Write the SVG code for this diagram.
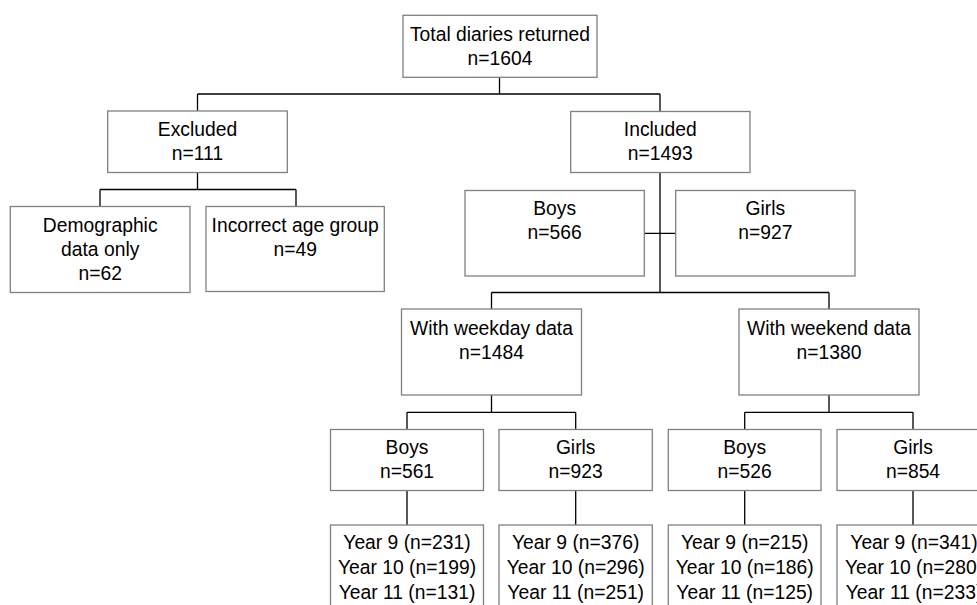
<svg xmlns="http://www.w3.org/2000/svg" width="977" height="605" viewBox="0 0 977 605">
<style>
.box{fill:#ffffff;stroke:#808080;stroke-width:1.3}
.t{font-family:"Liberation Sans",Arial,sans-serif;font-size:19.3px;fill:#000000;text-anchor:middle}
.c{fill:none;stroke:#000000;stroke-width:1.3}
</style>
<rect width="977" height="605" fill="#ffffff"/>
<g id="connectors">
<path class="c" d="M499.5 77V94M197.5 94H660M197.5 94V111M660 94V111.5"/>
<path class="c" d="M197.5 172.5V189.5M100 189.5H296M100 189.5V206.5M296 189.5V206.5"/>
<path class="c" d="M660 172.5V292.5M644.3 233.3H675.7M491.5 292.5H829M491.5 292.5V309M829 292.5V309"/>
<path class="c" d="M491.5 395V412.3M407 412.3H575.7M407 412.3V429.5M575.7 412.3V429.5"/>
<path class="c" d="M829 395V412.3M744.7 412.3H913M744.7 412.3V429.5M913 412.3V429.5"/>
<path class="c" d="M407 490.5V525M575.7 490.5V525M744.7 490.5V525M913 490.5V525"/>
</g>
<g id="total"><rect class="box" x="403" y="15.3" width="194" height="62"/><text class="t" x="500" y="40.7">Total diaries returned</text><text class="t" x="500" y="64.5">n=1604</text></g>
<g id="excluded"><rect class="box" x="107.7" y="111" width="179.6" height="61.5"/><text class="t" x="197.5" y="135.5">Excluded</text><text class="t" x="197.5" y="159.5">n=111</text></g>
<g id="included"><rect class="box" x="570.7" y="111.5" width="179.3" height="61"/><text class="t" x="660.3" y="136">Included</text><text class="t" x="660.3" y="160">n=1493</text></g>
<g id="demographic"><rect class="box" x="10.3" y="206.5" width="179.7" height="86"/><text class="t" x="100.2" y="231.7">Demographic</text><text class="t" x="100.2" y="256.2">data only</text><text class="t" x="100.2" y="280.2">n=62</text></g>
<g id="incorrect"><rect class="box" x="206" y="206.5" width="178.3" height="85"/><text class="t" x="295.2" y="231.7">Incorrect age group</text><text class="t" x="295.2" y="255.5">n=49</text></g>
<g id="boys-all"><rect class="box" x="465" y="190.5" width="179.3" height="85.5"/><text class="t" x="554.7" y="215">Boys</text><text class="t" x="554.7" y="239">n=566</text></g>
<g id="girls-all"><rect class="box" x="675.7" y="190.5" width="179.3" height="85.5"/><text class="t" x="765.3" y="215">Girls</text><text class="t" x="765.3" y="239">n=927</text></g>
<g id="weekday"><rect class="box" x="401.5" y="309" width="180" height="86"/><text class="t" x="491.5" y="334.5">With weekday data</text><text class="t" x="491.5" y="358.5">n=1484</text></g>
<g id="weekend"><rect class="box" x="739" y="309" width="180" height="86"/><text class="t" x="829" y="334.5">With weekend data</text><text class="t" x="829" y="358.5">n=1380</text></g>
<g id="wd-boys"><rect class="box" x="330.5" y="429.5" width="153" height="61"/><text class="t" x="407" y="453.5">Boys</text><text class="t" x="407" y="477.7">n=561</text></g>
<g id="wd-girls"><rect class="box" x="499" y="429.5" width="153.3" height="61"/><text class="t" x="575.7" y="453.5">Girls</text><text class="t" x="575.7" y="477.7">n=923</text></g>
<g id="we-boys"><rect class="box" x="668.3" y="429.5" width="152.7" height="61"/><text class="t" x="744.7" y="453.5">Boys</text><text class="t" x="744.7" y="477.7">n=526</text></g>
<g id="we-girls"><rect class="box" x="837" y="429.5" width="152" height="61"/><text class="t" x="913" y="453.5">Girls</text><text class="t" x="913" y="477.7">n=854</text></g>
<g id="wd-boys-years"><rect class="box" x="330.5" y="525" width="153" height="90"/><text class="t" x="407" y="549.3">Year 9 (n=231)</text><text class="t" x="407" y="574">Year 10 (n=199)</text><text class="t" x="407" y="598.7">Year 11 (n=131)</text></g>
<g id="wd-girls-years"><rect class="box" x="499" y="525" width="153.3" height="90"/><text class="t" x="575.7" y="549.3">Year 9 (n=376)</text><text class="t" x="575.7" y="574">Year 10 (n=296)</text><text class="t" x="575.7" y="598.7">Year 11 (n=251)</text></g>
<g id="we-boys-years"><rect class="box" x="668.3" y="525" width="152.7" height="90"/><text class="t" x="744.7" y="549.3">Year 9 (n=215)</text><text class="t" x="744.7" y="574">Year 10 (n=186)</text><text class="t" x="744.7" y="598.7">Year 11 (n=125)</text></g>
<g id="we-girls-years"><rect class="box" x="837" y="525" width="152" height="90"/><text class="t" x="914" y="549.3">Year 9 (n=341)</text><text class="t" x="914" y="574">Year 10 (n=280)</text><text class="t" x="914" y="598.7">Year 11 (n=233)</text></g>
</svg>
